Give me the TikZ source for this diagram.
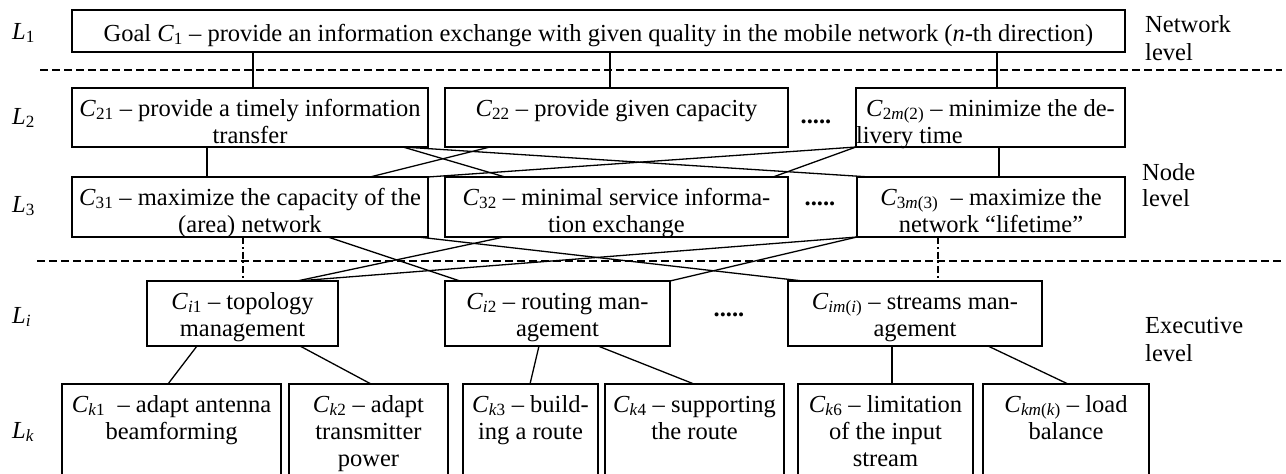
\documentclass[tikz,border=0pt]{standalone}
\usepackage{fontspec}
\setmainfont{Liberation Serif}
\newcommand\Cs[1]{\textit{C}\textsubscript{#1}}
\newcommand\Ls[1]{\textit{L}\textsubscript{#1}}
\newcommand\cl[1]{\makebox[\linewidth]{#1}}
\newcommand\gbox[7]{%
  \node[gb] (#1) at (#2,#3) {\begin{minipage}[t][\dimexpr #5pt-#3pt\relax][t]{\dimexpr #4pt-#2pt\relax}\centering\rule{0pt}{#6pt}#7\end{minipage}};}
\tikzset{
  every node/.style={font=\fontsize{24.5pt}{27pt}\selectfont},
  gb/.style={draw, line width=1.3pt, inner sep=0pt, outer sep=0pt, anchor=north west},
  con/.style={line width=1.3pt},
  dd/.style={line width=1.3pt, dash pattern=on 7pt off 3pt on 1.5pt off 3pt},
  sepline/.style={line width=2.4pt, dash pattern=on 8pt off 4pt},
  lab/.style={anchor=west, inner sep=0pt},
  side/.style={anchor=west, inner sep=0pt, align=left}
}
\begin{document}
\begin{tikzpicture}[x=1pt,y=-1pt]
\useasboundingbox (0,0) rectangle (1286,474);
\clip (0,0) rectangle (1286,474);
% separators
\coordinate (s1a) at (40,70);
\coordinate (s1b) at (1282,70);
\coordinate (s2a) at (37,261);
\coordinate (s2b) at (1282,261);
\draw[sepline] (s1a) -- (s1b);
\draw[sepline] (s2a) -- (s2b);
% boxes
\gbox{L1}{72}{10}{1125}{52}{31}{\cl{Goal \Cs{1} -- provide an information exchange with given quality in the mobile network (\textit{n}-th direction)}}
\gbox{C21}{72}{88}{428}{147}{28}{\cl{\Cs{21} -- provide a timely information}\\\cl{transfer}}
\gbox{C22}{445}{88}{788}{147}{28}{\cl{\Cs{22} -- provide given capacity}}
\gbox{C2m}{856}{88}{1125}{147}{28}{\cl{\Cs{2\textit{m}(2)} -- minimize the de-}\\\makebox[\linewidth][l]{livery time}}
\gbox{C31}{72}{177}{428}{237}{28}{\cl{\Cs{31} -- maximize the capacity of the}\\\cl{(area) network}}
\gbox{C32}{445}{177}{788}{237}{28}{\cl{\Cs{32} -- minimal service informa-}\\\cl{tion exchange}}
\gbox{C3m}{857}{177}{1125}{237}{28}{\cl{\Cs{3\textit{m}(3)}\ \ -- maximize the}\\\cl{network ``lifetime''}}
\gbox{Ci1}{147}{281}{338}{346}{28}{\cl{\Cs{\textit{i}1} -- topology}\\\cl{management}}
\gbox{Ci2}{445}{281}{670}{346}{28}{\cl{\Cs{\textit{i}2} -- routing man-}\\\cl{agement}}
\gbox{Cim}{788}{281}{1042}{346}{28}{\cl{\Cs{\textit{im}(\textit{i})} -- streams man-}\\\cl{agement}}
\gbox{Ck1}{62}{384}{281}{480}{28}{\cl{\Cs{\textit{k}1}\ \ -- adapt antenna}\\\cl{beamforming}}
\gbox{Ck2}{289}{384}{448}{480}{28}{\cl{\Cs{\textit{k}2} -- adapt}\\\cl{transmitter}\\\cl{power}}
\gbox{Ck3}{463}{384}{598}{480}{28}{\cl{\Cs{\textit{k}3} -- build-}\\\cl{ing a route}}
\gbox{Ck4}{605}{384}{784}{480}{28}{\cl{\Cs{\textit{k}4} -- supporting}\\\cl{the route}}
\gbox{Ck6}{798}{384}{973}{480}{28}{\cl{\Cs{\textit{k}6} -- limitation}\\\cl{of the input}\\\cl{stream}}
\gbox{Ckm}{983}{384}{1149}{480}{28}{\cl{\Cs{\textit{km}(\textit{k})} -- load}\\\cl{balance}}
% ellipses
\node[inner sep=0pt] (d2) at (816,122) {\textbf{.....}};
\node[inner sep=0pt] (d3) at (820,204) {\textbf{.....}};
\node[inner sep=0pt] (di) at (729,315) {\textbf{.....}};
% level labels
\node[lab] (l1) at (12,33) {\Ls{1}};
\node[lab] (l2) at (12,118) {\Ls{2}};
\node[lab] (l3) at (12,206) {\Ls{3}};
\node[lab] (li) at (12,317) {\Ls{\textit{i}}};
\node[lab] (lk) at (12,432) {\Ls{\textit{k}}};
\node[side] (netl) at (1145,38) {Network\\[1pt]level};
\node[side] (nodel) at (1142,185) {Node\\[-1pt]level};
\node[side] (exel) at (1145,340) {Executive\\[1pt]level};
% L1 -> L2
\draw[con] ([xshift=181pt]L1.south west) -- ([xshift=181pt]C21.north west);
\draw[con] ([xshift=538pt]L1.south west) -- ([xshift=165pt]C22.north west);
\draw[con] ([xshift=925pt]L1.south west) -- ([xshift=141pt]C2m.north west);
% L2 -> L3
\draw[con] ([xshift=135pt]C21.south west) -- ([xshift=135pt]C31.north west);
\draw[con] ([xshift=331pt]C21.south west) -- ([xshift=60pt]C32.north west);
\draw[con] ([xshift=45pt]C22.south west) -- ([xshift=298pt]C31.north west);
\draw[con] ([xshift=331pt]C21.south west) -- ([xshift=13pt]C3m.north west);
\draw[con] (C31.north east) -- (C2m.south west);
\draw[con] ([xshift=328pt]C32.north west) -- (C2m.south west);
\draw[con] ([xshift=143pt]C2m.south west) -- ([xshift=142pt]C3m.north west);
% L3 -> Li
\draw[dd] ([xshift=171pt]C31.south west) -- ([xshift=96pt]Ci1.north west);
\draw[con] ([xshift=256pt]C31.south west) -- ([xshift=15pt]Ci2.north west);
\draw[con] ([xshift=59pt]C32.south west) -- ([xshift=150pt]Ci1.north west);
\draw[con] ([xshift=346pt]C31.south west) -- ([xshift=15pt]Cim.north west);
\draw[con] ([xshift=150pt]Ci1.north west) -- (C3m.south west);
\draw[con] (Ci2.north east) -- (C3m.south west);
\draw[dd] ([xshift=81pt]C3m.south west) -- ([xshift=150pt]Cim.north west);
% Li -> Lk
\draw[con] ([xshift=50pt]Ci1.south west) -- ([xshift=106pt]Ck1.north west);
\draw[con] ([xshift=153pt]Ci1.south west) -- ([xshift=82pt]Ck2.north west);
\draw[con] ([xshift=94pt]Ci2.south west) -- ([xshift=67pt]Ck3.north west);
\draw[con] ([xshift=153pt]Ci2.south west) -- ([xshift=89pt]Ck4.north west);
\draw[con] ([xshift=104pt]Cim.south west) -- ([xshift=94pt]Ck6.north west);
\draw[con] ([xshift=200pt]Cim.south west) -- ([xshift=85pt]Ckm.north west);
\end{tikzpicture}
\end{document}
